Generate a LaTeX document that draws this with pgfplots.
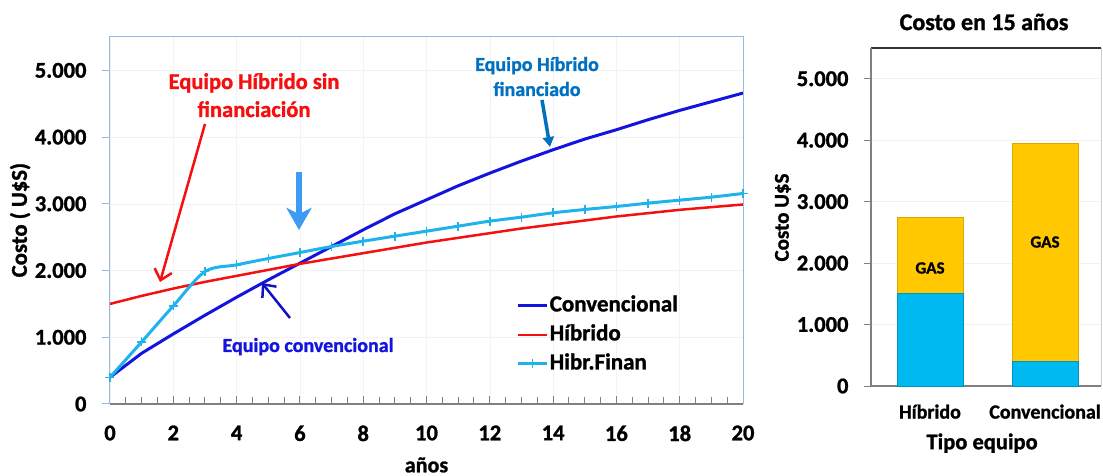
\documentclass[border=0pt]{standalone}
\usepackage{pgfplots}
\pgfplotsset{compat=1.18}
\usepackage{fontspec}
\setmainfont{Carlito}[BoldFeatures={FakeBold=1.2}]
\usetikzlibrary{arrows.meta}

\definecolor{convblue}{RGB}{20,20,225}
\definecolor{hibred}{RGB}{245,15,15}
\definecolor{finblue}{RGB}{30,180,235}
\definecolor{annblue}{RGB}{0,112,192}
\definecolor{arrowblue}{RGB}{60,155,245}
\definecolor{framelb}{RGB}{150,185,225}
\definecolor{barblue}{RGB}{0,185,240}
\definecolor{bargold}{RGB}{255,200,0}

\newcommand\fsz[1]{\fontsize{#1pt}{#1pt}\selectfont\bfseries}

% cumulative cost per year (U$S)
\pgfplotstableread{
anio conv hib fin
0  400  1500 400
1  760  1620 930
2  1050 1730 1470
3  1330 1830 1985
4  1600 1920 2085
5  1860 2010 2180
6  2110 2100 2270
7  2360 2180 2360
8  2610 2260 2440
9  2850 2340 2515
10 3060 2420 2590
11 3270 2490 2665
12 3460 2560 2740
13 3640 2630 2800
14 3810 2690 2865
15 3970 2750 2915
16 4110 2810 2960
17 4260 2860 3010
18 4400 2910 3055
19 4530 2950 3100
20 4660 2990 3155
}\costos

% cost breakdown after 15 years
\pgfplotstableread{
pos equipo gas
1 1500 1240
2 400  3540
}\quince

\begin{document}
\begin{tikzpicture}[x=1pt,y=1pt]
\useasboundingbox (0,0) rectangle (1103,476);

% ---------------- cumulative cost over time ----------------
\begin{axis}[
  at={(110pt,72pt)}, anchor=south west,
  width=633pt, height=367pt, scale only axis,
  xmin=0, xmax=20, ymin=0, ymax=5500,
  xtick={0,2,...,20},
  xticklabels={0,2,4,6,8,10,12,14,16,18,20},
  minor x tick num=3,
  ytick={0,1000,...,5000},
  yticklabels={0,1.000,2.000,3.000,4.000,5.000},
  xtick pos=bottom, ytick pos=left,
  xtick align=inside, ytick align=outside,
  major tick length=8pt, minor tick length=7pt,
  every x tick/.append style={gray, line width=1pt},
  every minor tick/.append style={gray, line width=0.8pt},
  every y tick/.append style={framelb, line width=1pt},
  axis line style={draw=none},
  grid=major, major grid style={gray!10, line width=0.6pt},
  tick label style={font=\fsz{22.5}},
  yticklabel style={xshift=-12pt},
  xticklabel style={yshift=-18pt},
  xlabel={años},
  xlabel style={font=\fsz{22}, at={(axis description cs:0.5,-0.166)}, anchor=center},
  ylabel={Costo ( U\$S)},
  ylabel style={font=\fsz{22.7}, at={(axis description cs:-0.142,0.501)}, anchor=center, rotate=0},
  legend style={at={(axis cs:12.75,1675)}, anchor=north west, draw=none, fill=none,
    font=\fsz{23}, row sep=6pt,
    nodes={inner sep=1pt, text height=16pt, text depth=5pt}},
  legend cell align=left,
  legend image code/.code={\draw[mark repeat=2,mark phase=2,#1]
    plot coordinates {(0pt,0pt) (14.5pt,0pt) (29pt,0pt)};},
  clip=false,
]
\addplot[convblue, line width=3pt, no marks] table[x=anio, y=conv] {\costos};
\addlegendentry{Convencional}
\addplot[hibred, line width=2.5pt, no marks] table[x=anio, y=hib] {\costos};
\addlegendentry{Híbrido}
\addplot[finblue, line width=3pt, smooth, mark=+, mark size=4.5pt,
  mark options={line width=1.5pt}] table[x=anio, y=fin] {\costos};
\addlegendentry{Hibr.Finan}

% frame
\draw[framelb, line width=1pt] (rel axis cs:0,0) -- (rel axis cs:0,1) -- (rel axis cs:1,1) -- (rel axis cs:1,0);
\draw[gray, line width=1.2pt] (rel axis cs:0,0) -- (rel axis cs:1,0);
\end{axis}

% ---------------- cost after 15 years ----------------
\begin{axis}[
  at={(871pt,90pt)}, anchor=south west,
  width=230pt, height=338pt, scale only axis,
  xmin=0.487, xmax=2.487, ymin=0, ymax=5500,
  ybar stacked, bar width=66pt,
  xtick={1,2}, xticklabels={Híbrido,Convencional},
  ytick={0,1000,...,5000},
  yticklabels={0,1.000,2.000,3.000,4.000,5.000},
  xtick style={draw=none},
  ytick pos=left, ytick align=outside, major tick length=7pt,
  every y tick/.append style={gray, line width=0.8pt},
  axis line style={draw=none},
  ymajorgrids, major grid style={gray!10, line width=0.6pt},
  yticklabel style={font=\fsz{22.5}, xshift=-12pt},
  xticklabel style={font=\fsz{20}, yshift=-15pt},
  xlabel={Tipo equipo},
  xlabel style={font=\fsz{22.5}, at={(axis description cs:0.483,-0.169)}, anchor=center},
  ylabel={Costo U\$S},
  ylabel style={font=\fsz{21}, at={(axis description cs:-0.383,0.4985)}, anchor=center, rotate=0},
  clip=false,
]
\addplot[fill=barblue, draw=barblue!80!black, line width=0.8pt] table[x=pos, y=equipo] {\quince};
\addplot[fill=bargold, draw=bargold!85!black, line width=0.8pt] table[x=pos, y=gas] {\quince};

\draw[gray!40, line width=1pt] (rel axis cs:1,0) -- (rel axis cs:1,1);
\draw[gray, line width=1.2pt] (rel axis cs:0,1) -- (rel axis cs:0,0) -- (rel axis cs:1,0);
\draw[black!80, line width=1.2pt] (rel axis cs:0,1) -- (rel axis cs:1,1);
\end{axis}

% titles and notes
\node[font=\fsz{24}] at (984,454) {Costo en 15 años};
\node[font=\fsz{17}] at (930,208) {GAS};
\node[font=\fsz{17}] at (1045,234) {GAS};

\node[font=\fsz{22.5}, text=hibred, anchor=base] at (254,387) {Equipo Híbrido sin};
\node[font=\fsz{22.5}, text=hibred, anchor=base] at (254,359) {financiación};
\draw[hibred, line width=2.5pt, -{Straight Barb[length=10pt,width=18pt]}] (205,352) -- (160,194);

\node[font=\fsz{20}, text=convblue, anchor=base west] at (219,124) {Equipo convencional};
\draw[convblue!85!black, line width=2.5pt, -{Straight Barb[length=10pt,width=18pt]}] (290,158) -- (262,193);

\node[font=\fsz{20}, text=annblue, anchor=base] at (537,405) {Equipo Híbrido};
\node[font=\fsz{20}, text=annblue, anchor=base] at (537,380) {financiado};
\draw[annblue, line width=3.5pt, -{Triangle[length=10pt,width=11pt]}] (542,376) -- (550,329);

\draw[arrowblue, line width=6pt, -{Stealth[length=22pt,width=25pt,inset=6pt]}] (299,304) -- (299,246);
\end{tikzpicture}
\end{document}
